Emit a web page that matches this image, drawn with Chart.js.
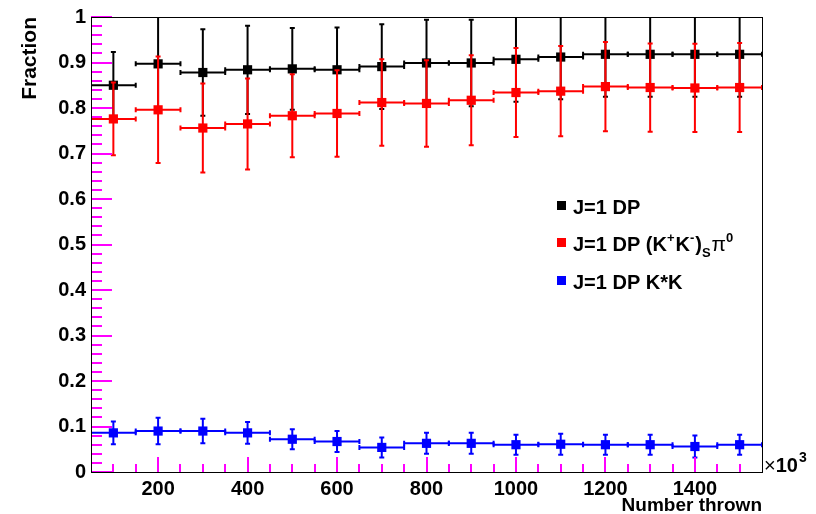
<!DOCTYPE html>
<html>
<head>
<meta charset="utf-8">
<script src="https://cdn.jsdelivr.net/npm/chart.js@4.4.0/dist/chart.umd.min.js"></script>
<style>
  html, body { margin: 0; padding: 0; background: #fff; }
</style>
</head>
<body>
<canvas id="fracChart" width="816" height="514"></canvas>
<script>
// bin centres (x10^3 thrown) and half bin width
const binCenters = [100, 200, 300, 400, 500, 600, 700, 800, 900, 1000, 1100, 1200, 1300, 1400, 1500];
const binHalfWidth = 50;

// J=1 DP
const dpAll    = [0.850, 0.897, 0.878, 0.884, 0.886, 0.884, 0.891, 0.899, 0.899, 0.907, 0.912, 0.918, 0.918, 0.918, 0.918];
const dpAllErr = [0.073, 0.105, 0.095, 0.097, 0.090, 0.093, 0.093, 0.095, 0.095, 0.093, 0.093, 0.093, 0.093, 0.093, 0.093];
// J=1 DP (K+K-)S pi0
const dpKK    = [0.776, 0.796, 0.756, 0.765, 0.783, 0.788, 0.812, 0.810, 0.817, 0.834, 0.837, 0.847, 0.845, 0.844, 0.845];
const dpKKErr = [0.080, 0.117, 0.098, 0.100, 0.091, 0.095, 0.095, 0.095, 0.099, 0.098, 0.099, 0.098, 0.097, 0.097, 0.098];
// J=1 DP K*K
const dpKstarK    = [0.086, 0.090, 0.090, 0.086, 0.072, 0.067, 0.054, 0.063, 0.063, 0.060, 0.061, 0.060, 0.060, 0.056, 0.060];
const dpKstarKErr = [0.025, 0.029, 0.027, 0.024, 0.022, 0.023, 0.022, 0.023, 0.023, 0.022, 0.023, 0.022, 0.022, 0.024, 0.022];

const xTickValues = [200, 400, 600, 800, 1000, 1200, 1400];
const yTickValues = [0, 0.1, 0.2, 0.3, 0.4, 0.5, 0.6, 0.7, 0.8, 0.9, 1];
const xRange = [50, 1550];
const yRange = [0, 1];

const FONT = '"Liberation Sans", Arial, Helvetica, sans-serif';

const series = [
    { label: 'J=1 DP', values: dpAll, errors: dpAllErr, color: '#000000', order: 3 },
    { label: 'J=1 DP (K+K-)S pi0', values: dpKK, errors: dpKKErr, color: '#ff0000', order: 2 },
    { label: 'J=1 DP K*K', values: dpKstarK, errors: dpKstarKErr, color: '#0000ff', order: 1 }
];

// error bars drawn right before each dataset's markers
const errorBarPlugin = {
    id: 'errorBars',
    beforeDatasetDraw(chart, args) {
        const s = series[args.index];
        const xs = chart.scales.x, ys = chart.scales.y;
        const area = chart.chartArea;
        const ctx = chart.ctx;
        ctx.save();
        ctx.beginPath();
        ctx.rect(area.left, area.top, area.right - area.left, area.bottom - area.top);
        ctx.clip();
        ctx.strokeStyle = s.color;
        ctx.lineWidth = 2;
        const cap = 2.5;
        binCenters.forEach((c, i) => {
            const px = xs.getPixelForValue(c);
            const py = ys.getPixelForValue(s.values[i]);
            const x1 = xs.getPixelForValue(c - binHalfWidth);
            const x2 = xs.getPixelForValue(c + binHalfWidth);
            const yTop = ys.getPixelForValue(s.values[i] + s.errors[i]);
            const yBot = ys.getPixelForValue(s.values[i] - s.errors[i]);
            ctx.beginPath();
            ctx.moveTo(x1, py); ctx.lineTo(x2, py);
            ctx.moveTo(px, yTop); ctx.lineTo(px, yBot);
            // end caps
            ctx.moveTo(x1, py - cap); ctx.lineTo(x1, py + cap);
            ctx.moveTo(x2, py - cap); ctx.lineTo(x2, py + cap);
            ctx.moveTo(px - cap, yTop); ctx.lineTo(px + cap, yTop);
            ctx.moveTo(px - cap, yBot); ctx.lineTo(px + cap, yBot);
            ctx.stroke();
        });
        ctx.restore();
    }
};

// inward axis ticks, ROOT style
function drawTicks(chart) {
    const ctx = chart.ctx;
    const a = chart.chartArea;
    const left = Math.round(a.left), right = Math.round(a.right);
    const top = Math.round(a.top), bottom = Math.round(a.bottom);
    const yPix = v => bottom - (v - yRange[0]) / (yRange[1] - yRange[0]) * (bottom - top);
    const xPix = v => left + (v - xRange[0]) / (xRange[1] - xRange[0]) * (right - left);
    ctx.save();
    ctx.strokeStyle = '#ff00ff';
    ctx.lineWidth = 2;
    ctx.beginPath();
    for (let k = 0; k <= 50; k++) {
        const y = Math.round(yPix(k / 50));
        const len = (k % 5 === 0) ? 21 : 11;
        ctx.moveTo(left, y);
        ctx.lineTo(left + len, y);
    }
    for (let v = 100; v <= 1500; v += 50) {
        const x = Math.round(xPix(v));
        const len = (v % 200 === 0) ? 15 : 8;
        ctx.moveTo(x, bottom);
        ctx.lineTo(x, bottom - len);
    }
    ctx.stroke();
    ctx.restore();
}

// frame, titles and legend
const rootFramePlugin = {
    id: 'rootFrame',
    afterDraw(chart) {
        const ctx = chart.ctx;
        const a = chart.chartArea;
        const left = Math.round(a.left), right = Math.round(a.right);
        const top = Math.round(a.top), bottom = Math.round(a.bottom);
        drawTicks(chart);
        ctx.save();
        ctx.fillStyle = '#000000';
        // frame
        ctx.fillRect(left, top, right - left + 1, 1);
        ctx.fillRect(left, bottom, right - left + 1, 1);
        ctx.fillRect(left, top, 1, bottom - top);
        ctx.fillRect(right, top, 1, bottom - top);

        // axis titles
        ctx.font = 'bold 21px ' + FONT;
        ctx.save();
        ctx.translate(36, top);
        ctx.rotate(-Math.PI / 2);
        ctx.textAlign = 'right';
        ctx.textBaseline = 'alphabetic';
        ctx.fillText('Fraction', 0, 0);
        ctx.restore();

        ctx.font = 'bold 19px ' + FONT;
        ctx.textAlign = 'right';
        ctx.textBaseline = 'alphabetic';
        ctx.fillText('Number thrown', right, 511);

        // x10^3 multiplier
        ctx.textAlign = 'left';
        ctx.font = '20px ' + FONT;
        ctx.fillText('\u00d7', right + 2, bottom);
        let xx = right + 2 + ctx.measureText('\u00d7').width;
        ctx.font = 'bold 20px ' + FONT;
        ctx.fillText('10', xx, bottom);
        xx += ctx.measureText('10').width;
        ctx.font = 'bold 14px ' + FONT;
        ctx.fillText('3', xx + 1, bottom - 10);

        // legend
        const rows = [
            [{ t: 'J=1 DP' }],
            [{ t: 'J=1 DP (K' }, { t: '+', sup: true }, { t: 'K' }, { t: '-', sup: true }, { t: ')' },
             { t: 'S', sub: true }, { t: '\u03c0', greek: true }, { t: '0', sup: true }],
            [{ t: 'J=1 DP K*K' }]
        ];
        const baselines = [214, 251, 289];
        rows.forEach((segs, r) => {
            const base = baselines[r];
            ctx.fillStyle = series[r].color;
            ctx.fillRect(557, base - 13, 9, 9);
            ctx.fillStyle = '#000';
            let x = 573;
            segs.forEach(sg => {
                let y = base;
                if (sg.sup) { ctx.font = 'bold 13px ' + FONT; y = base - 9; }
                else if (sg.sub) { ctx.font = 'bold 13px ' + FONT; y = base + 6; }
                else if (sg.greek) { ctx.font = '21px ' + FONT; }
                else { ctx.font = 'bold 20px ' + FONT; }
                ctx.fillText(sg.t, x, y);
                x += ctx.measureText(sg.t).width + (sg.sup || sg.sub ? 1 : 0);
            });
        });
        ctx.restore();
    }
};

const chartCtx = document.getElementById('fracChart').getContext('2d');
const fracChart = new Chart(chartCtx, {
    type: 'scatter',
    data: {
        datasets: series.map(s => ({
            label: s.label,
            data: binCenters.map((c, i) => ({ x: c, y: s.values[i] })),
            showLine: false,
            pointStyle: 'rect',
            pointRadius: 6.5,
            pointBackgroundColor: s.color,
            pointBorderWidth: 0,
            order: s.order
        }))
    },
    options: {
        responsive: false,
        animation: false,
        devicePixelRatio: 1,
        layout: { padding: { top: 14, right: 54, bottom: 0, left: 0 } },
        plugins: {
            legend: { display: false },
            tooltip: { enabled: false }
        },
        scales: {
            x: {
                type: 'linear',
                min: xRange[0],
                max: xRange[1],
                grid: { display: false, drawTicks: false },
                border: { display: false },
                afterBuildTicks: axis => { axis.ticks = xTickValues.map(v => ({ value: v })); },
                afterFit: axis => { axis.height = 42; },
                ticks: {
                    color: '#000',
                    padding: 5,
                    maxRotation: 0,
                    font: { family: FONT, size: 20, weight: 'bold' },
                    callback: v => String(v)
                }
            },
            y: {
                min: yRange[0],
                max: yRange[1],
                grid: { display: false, drawTicks: false },
                border: { display: false },
                afterBuildTicks: axis => { axis.ticks = yTickValues.map(v => ({ value: v })); },
                afterFit: axis => { axis.width = 91; },
                ticks: {
                    color: '#000',
                    padding: 5,
                    font: { family: FONT, size: 20, weight: 'bold' },
                    callback: v => String(Number(v.toFixed(1)))
                }
            }
        }
    },
    plugins: [errorBarPlugin, rootFramePlugin]
});
</script>
</body>
</html>
